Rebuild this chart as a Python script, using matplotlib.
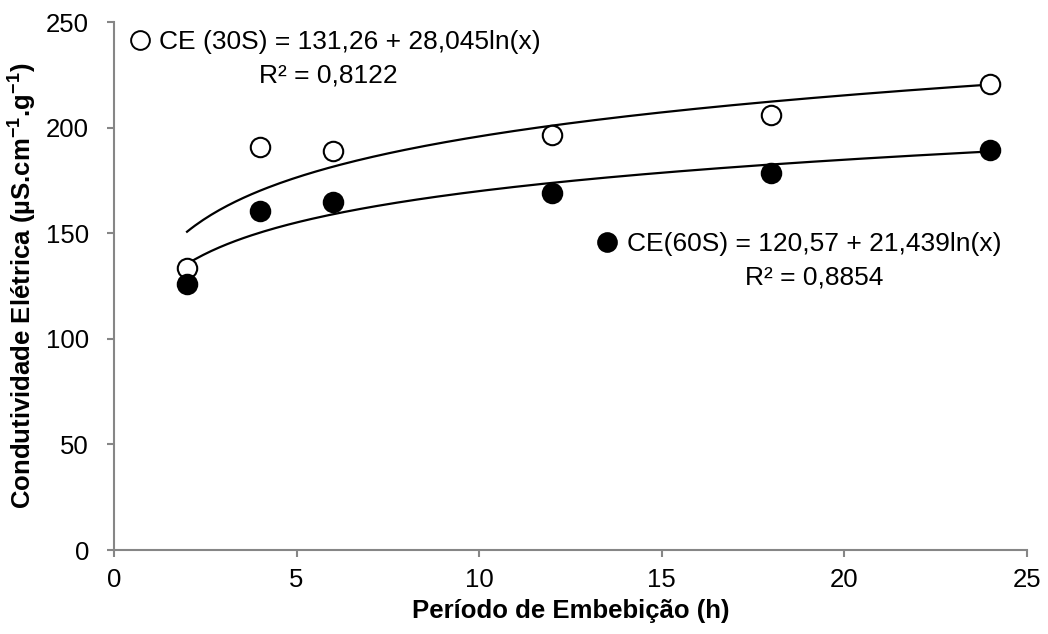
import numpy as np
import matplotlib
matplotlib.use("Agg")
import matplotlib.pyplot as plt
from matplotlib.lines import Line2D

plt.rcParams['font.family'] = ['Liberation Sans', 'DejaVu Sans']
plt.rcParams['mathtext.fontset'] = 'custom'
plt.rcParams['mathtext.rm'] = 'Liberation Sans'
plt.rcParams['mathtext.bf'] = 'Liberation Sans:bold'

# Data
hours = [2, 4, 6, 12, 18, 24]
ce_30s = [133.6, 191.0, 188.7, 196.3, 205.8, 220.5]
ce_60s = [126.0, 160.6, 164.9, 169.2, 178.7, 189.6]

# Trend line coefficients (from chart labels)
a30, b30 = 131.26, 28.045
a60, b60 = 120.57, 21.439
eq30 = "CE (30S) = 131,26 + 28,045ln(x)"
r30 = "R² = 0,8122"
eq60 = "CE(60S) = 120,57 + 21,439ln(x)"
r60 = "R² = 0,8854"

xticks = [0, 5, 10, 15, 20, 25]
yticks = [0, 50, 100, 150, 200, 250]

FS = 18.5
FS_EQ = 19
W, H = 1048, 634
L, R, B, T = 114, 1027, 550, 22

fig = plt.figure(figsize=(W / 100, H / 100), dpi=100)
ax = fig.add_axes([L / W, (H - B) / H, (R - L) / W, (B - T) / H])

def ax_xy(px, py):
    return (px - L) / (R - L), (B - py) / (B - T)

xt = np.linspace(min(hours), max(hours), 200)
ax.plot(xt, a30 + b30 * np.log(xt), color='black', lw=1.6, zorder=2)
ax.plot(xt, a60 + b60 * np.log(xt), color='black', lw=1.6, zorder=2)

ax.plot(hours, ce_30s, 'o', ms=14, mfc='white', mec='black', mew=1.5, ls='none', zorder=3)
ax.plot(hours, ce_60s, 'o', ms=14, mfc='black', mec='black', mew=1.5, ls='none', zorder=3)

ax.set_xlim(0, 25)
ax.set_ylim(0, 250)
ax.set_xticks(xticks)
ax.set_yticks(yticks)

for s in ['top', 'right']:
    ax.spines[s].set_visible(False)
for s in ['left', 'bottom']:
    ax.spines[s].set_color('#868686')
    ax.spines[s].set_linewidth(1.5)
ax.tick_params(axis='both', direction='out', length=5, width=1.5, color='#868686',
               labelsize=FS, labelcolor='black')
ax.tick_params(axis='x', pad=8)
ax.tick_params(axis='y', pad=13)

ax.set_xlabel('Período de Embebição (h)', fontsize=FS, fontweight='bold', labelpad=5)
ax.set_ylabel('Condutividade Elétrica (µS.cm$^{\\mathbf{-1}}$.g$^{\\mathbf{-1}}$)', fontsize=FS,
              fontweight='bold')
ax.yaxis.set_label_coords(ax_xy(38, 0)[0], 0.5)

h30 = Line2D([], [], marker='o', ms=13.5, mfc='white', mec='black', mew=1.4, ls='none')
h60 = Line2D([], [], marker='o', ms=13.5, mfc='black', mec='black', mew=1.4, ls='none')

leg1 = ax.legend([h30], [eq30], loc='center left', bbox_to_anchor=ax_xy(130, 42),
                 frameon=False, fontsize=FS_EQ, handlelength=0.78, handletextpad=0.32,
                 borderaxespad=0, borderpad=0)
ax.add_artist(leg1)
leg2 = ax.legend([h60], [eq60], loc='center left', bbox_to_anchor=ax_xy(597, 244),
                 frameon=False, fontsize=FS_EQ, handlelength=0.78, handletextpad=0.36,
                 borderaxespad=0, borderpad=0)

ax.text(*ax_xy(328, 82), r30, transform=ax.transAxes, fontsize=FS_EQ, ha='center', va='baseline')
ax.text(*ax_xy(814, 285), r60, transform=ax.transAxes, fontsize=FS_EQ, ha='center', va='baseline')

fig.savefig('out.png', dpi=100)
